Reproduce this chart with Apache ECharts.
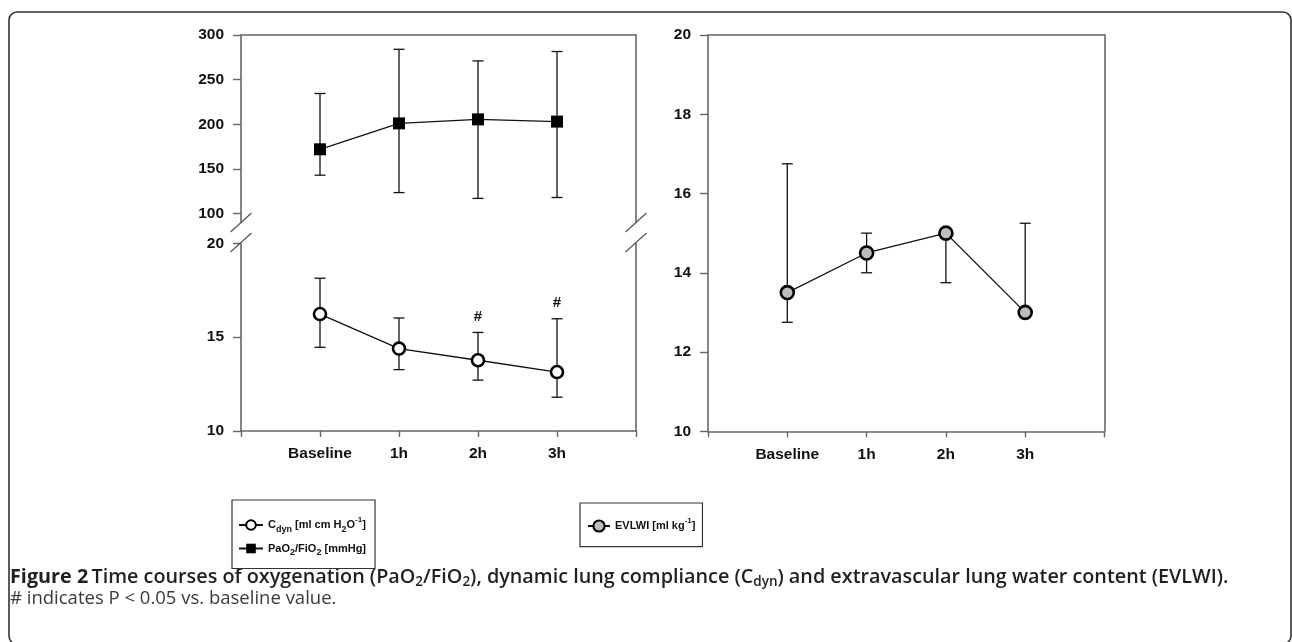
<!DOCTYPE html>
<html><head><meta charset="utf-8">
<script src="https://cdn.jsdelivr.net/npm/echarts@6/dist/echarts.min.js"></script>
<style>html,body{margin:0;padding:0;background:#fff}#c{width:1292px;height:642px}</style>
</head><body><div id="c"></div>
<script>
// ---- data ----
const categories = ['Baseline', '1h', '2h', '3h'];
const pfMean = [172, 201, 205.5, 203];
const pfLow = [143, 123.5, 117, 118];
const pfHigh = [234.5, 284, 271, 281.5];
const cdynMean = [16.23, 14.39, 13.77, 13.14];
const cdynLow = [14.46, 13.27, 12.71, 11.8];
const cdynHigh = [18.14, 16.02, 15.25, 15.98];
const cdynSig = [0, 0, 1, 1];
const evlwiMean = [13.5, 14.5, 15.0, 13.0];
const evlwiLow = [12.75, 14.0, 13.75, null];
const evlwiHigh = [16.75, 15.0, null, 15.25];
const pfTicks = [100, 150, 200, 250, 300];
const catPositions = [1, 2, 3, 4];

const AX = '#666';
const INK = '#111';
const LF = 'Liberation Sans, Arial, sans-serif';

const chart = echarts.init(document.getElementById('c'), null, {renderer: 'canvas'});

function pts(arr) { return arr.map((v, i) => [catPositions[i], v]); }
function errData(mean, lo, hi, sig) {
  return mean.map((m, i) => [catPositions[i], m, lo[i] == null ? NaN : lo[i], hi[i] == null ? NaN : hi[i], sig ? sig[i] : 0]);
}
function errRender(params, api) {
  const x = api.value(0), m = api.value(1), lo = api.value(2), hi = api.value(3), sig = api.value(4);
  const c = api.coord([x, m]);
  const st = {stroke: INK, lineWidth: 1.3};
  const cap = 5.5;
  const ch = [];
  if (isFinite(hi)) {
    const p = api.coord([x, hi]);
    ch.push({type: 'line', shape: {x1: c[0], y1: c[1], x2: p[0], y2: p[1]}, style: st});
    ch.push({type: 'line', shape: {x1: p[0] - cap, y1: p[1], x2: p[0] + cap, y2: p[1]}, style: st});
    if (sig) {
      ch.push({type: 'text', style: {text: '#', x: p[0], y: p[1] - 15.5, align: 'center', verticalAlign: 'middle',
        fontSize: 15, fontWeight: 'bold', fontFamily: LF, fill: INK}});
    }
  }
  if (isFinite(lo)) {
    const p = api.coord([x, lo]);
    ch.push({type: 'line', shape: {x1: c[0], y1: c[1], x2: p[0], y2: p[1]}, style: st});
    ch.push({type: 'line', shape: {x1: p[0] - cap, y1: p[1], x2: p[0] + cap, y2: p[1]}, style: st});
  }
  return {type: 'group', children: ch};
}

const lineAxis = {show: true, onZero: false, lineStyle: {color: AX, width: 1.6}};
const lblY = {fontSize: 15.5, fontWeight: 'bold', fontFamily: LF, color: INK, margin: 17};
const lblX = {fontSize: 15.5, fontWeight: 'bold', fontFamily: LF, color: INK, margin: 15,
  customValues: catPositions, formatter: v => categories[Math.round(v) - 1] || ''};
const tickY = {show: true, length: 8, lineStyle: {color: AX, width: 1.4}};
const tickX = {show: true, length: 6, lineStyle: {color: AX, width: 1.4}};
const plainAxis = {axisLine: lineAxis, axisTick: {show: false}, axisLabel: {show: false}, splitLine: {show: false}};

const legendRich = {
  n: {fontSize: 11, fontWeight: 'bold', fontFamily: LF, color: INK, lineHeight: 18},
  sub: {fontSize: 9, fontWeight: 'bold', fontFamily: LF, color: INK, lineHeight: 10, verticalAlign: 'bottom'},
  sup: {fontSize: 8, fontWeight: 'bold', fontFamily: LF, color: INK, lineHeight: 10, verticalAlign: 'top'}
};
const legendText = {
  'Cdyn': '{n|C}{sub|dyn}{n| [ml cm H}{sub|2}{n|O}{sup|-1}{n|]}',
  'PaO2/FiO2': '{n|PaO}{sub|2}{n|/FiO}{sub|2}{n| [mmHg]}',
  'EVLWI': '{n|EVLWI [ml kg}{sup|-1}{n|]}'
};

const option = {
  animation: false,
  backgroundColor: '#fff',
  grid: [
    {left: 241, top: 35, width: 395, height: 187.5},
    {left: 241, top: 243.3, width: 395, height: 187.7},
    {left: 708, top: 35, width: 396.5, height: 396.3}
  ],
  xAxis: [
    Object.assign({type: 'value', gridIndex: 0, min: 0, max: 5, position: 'top'}, plainAxis),
    {type: 'value', gridIndex: 1, min: 0, max: 5, interval: 1, position: 'bottom', axisLine: lineAxis,
      axisTick: tickX, axisLabel: lblX, splitLine: {show: false}},
    {type: 'value', gridIndex: 2, min: 0, max: 5, interval: 1, position: 'bottom', axisLine: lineAxis,
      axisTick: tickX, axisLabel: lblX, splitLine: {show: false}},
    Object.assign({type: 'value', gridIndex: 2, min: 0, max: 5, position: 'top'}, plainAxis)
  ],
  yAxis: [
    {type: 'value', gridIndex: 0, min: 90, max: 300, position: 'left', axisLine: lineAxis,
      axisTick: Object.assign({customValues: pfTicks}, tickY),
      axisLabel: Object.assign({customValues: pfTicks}, lblY), splitLine: {show: false}},
    Object.assign({type: 'value', gridIndex: 0, min: 90, max: 300, position: 'right'}, plainAxis),
    {type: 'value', gridIndex: 1, min: 10, max: 20, interval: 5, position: 'left', axisLine: lineAxis,
      axisTick: tickY, axisLabel: lblY, splitLine: {show: false}},
    Object.assign({type: 'value', gridIndex: 1, min: 10, max: 20, position: 'right'}, plainAxis),
    {type: 'value', gridIndex: 2, min: 10, max: 20, interval: 2, position: 'left', axisLine: lineAxis,
      axisTick: tickY, axisLabel: lblY, splitLine: {show: false}},
    Object.assign({type: 'value', gridIndex: 2, min: 10, max: 20, position: 'right'}, plainAxis)
  ],
  legend: [
    {data: ['Cdyn', 'PaO2/FiO2'], orient: 'vertical', left: 232, top: 500, padding: [16, 9, 11, 6],
      itemGap: 9, itemWidth: 24, itemHeight: 12, borderColor: '#333', borderWidth: 1.2,
      formatter: n => legendText[n], textStyle: {rich: legendRich}, selectedMode: false},
    {data: ['EVLWI'], orient: 'vertical', left: 580, top: 503, padding: [14, 7, 14, 7],
      itemWidth: 22, itemHeight: 14, borderColor: '#333', borderWidth: 1.2,
      formatter: n => legendText[n], textStyle: {rich: legendRich}, selectedMode: false}
  ],
  series: [
    {type: 'custom', xAxisIndex: 0, yAxisIndex: 0, data: errData(pfMean, pfLow, pfHigh), renderItem: errRender, z: 1, silent: true},
    {type: 'line', name: 'PaO2/FiO2', xAxisIndex: 0, yAxisIndex: 0, data: pts(pfMean), symbol: 'rect', symbolSize: 12,
      itemStyle: {color: '#000', borderColor: '#000', borderWidth: 0}, lineStyle: {color: INK, width: 1.3}, z: 3},
    {type: 'custom', xAxisIndex: 1, yAxisIndex: 2, data: errData(cdynMean, cdynLow, cdynHigh, cdynSig), renderItem: errRender, z: 1, silent: true},
    {type: 'line', name: 'Cdyn', xAxisIndex: 1, yAxisIndex: 2, data: pts(cdynMean), symbol: 'circle', symbolSize: 12,
      itemStyle: {color: '#fff', borderColor: '#000', borderWidth: 2.6}, lineStyle: {color: INK, width: 1.3}, z: 3},
    {type: 'custom', xAxisIndex: 2, yAxisIndex: 4, data: errData(evlwiMean, evlwiLow, evlwiHigh), renderItem: errRender, z: 1, silent: true},
    {type: 'line', name: 'EVLWI', xAxisIndex: 2, yAxisIndex: 4, data: pts(evlwiMean), symbol: 'circle', symbolSize: 13,
      itemStyle: {color: '#bdbdbd', borderColor: '#000', borderWidth: 2.6}, lineStyle: {color: INK, width: 1.3}, z: 3}
  ]
};
chart.setOption(option);

// decorations: axis break slashes, frame, caption
const g = [];
function slash(c) {
  g.push({type: 'line', shape: {x1: c[0] - 10.5, y1: c[1] + 9.5, x2: c[0] + 10.5, y2: c[1] - 9.5},
    style: {stroke: '#555', lineWidth: 1.2}, z: 10});
}
[0, 5].forEach(xv => {
  slash(chart.convertToPixel({xAxisIndex: 0, yAxisIndex: 0}, [xv, 90]));
  slash(chart.convertToPixel({xAxisIndex: 1, yAxisIndex: 2}, [xv, 20]).map((v, i) => i ? v - 0.8 : v));
});
g.push({type: 'rect', shape: {x: 9, y: 12, width: 1282, height: 632, r: 8},
  style: {fill: 'none', stroke: '#333', lineWidth: 1.6}, z: 0});
const CF = 'Open Sans, Noto Sans, sans-serif';
g.push({type: 'text', left: 10, top: 567, style: {
  text: '{b|Figure 2} {m|Time courses of oxygenation (PaO}{s|2}{m|/FiO}{s|2}{m|), dynamic lung compliance (C}{s|dyn}{m|) and extravascular lung water content (EVLWI).}',
  rich: {
    b: {fontFamily: CF, fontWeight: 'bold', fontSize: 19.8, fill: '#231f20', lineHeight: 24},
    m: {fontFamily: CF, fontWeight: 600, fontSize: 19.8, fill: '#231f20', lineHeight: 24},
    s: {fontFamily: CF, fontWeight: 600, fontSize: 13.5, fill: '#231f20', lineHeight: 15, verticalAlign: 'bottom'}
  }}});
g.push({type: 'text', left: 10, top: 588, style: {
  text: '# indicates P < 0.05 vs. baseline value.', fontFamily: CF, fontSize: 18.5, fill: '#3a3a3a', lineHeight: 22}});
chart.setOption({graphic: g});
</script>
</body></html>
